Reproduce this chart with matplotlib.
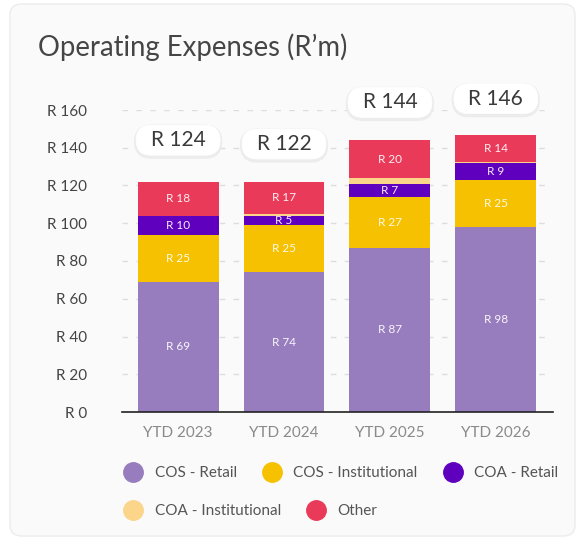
import matplotlib
matplotlib.use("Agg")
import matplotlib.pyplot as plt
import numpy as np
from matplotlib.lines import Line2D
from matplotlib.patches import FancyBboxPatch

plt.rcParams["font.family"] = ["Lato", "DejaVu Sans"]

# Data
years = ["YTD 2023", "YTD 2024", "YTD 2025", "YTD 2026"]
series_names = ["COS - Retail", "COS - Institutional", "COA - Retail",
                "COA - Institutional", "Other"]
cos_retail = [69, 74, 87, 98]
cos_institutional = [25, 25, 27, 25]
coa_retail = [10, 5, 7, 9]
coa_institutional = [0, 1, 3, 0.7]
other = [18, 17, 20, 14]
totals = [124, 122, 144, 146]
yticks = [0, 20, 40, 60, 80, 100, 120, 140, 160]

series = [cos_retail, cos_institutional, coa_retail, coa_institutional, other]
colors = ["#987dbe", "#f6c100", "#5f00bf", "#fbd58a", "#ea3a5a"]
show_label = [True, True, True, False, True]

W, H = 578, 544
fig = plt.figure(figsize=(W / 100, H / 100), dpi=100, facecolor="white")

# card background
card = FancyBboxPatch((10 / W, 8 / H), 565 / W, 532 / H,
                      boxstyle="round,pad=0,rounding_size=0.02",
                      transform=fig.transFigure, fc="#fafafa", ec="#ececec",
                      lw=1, zorder=-10)
fig.patches.append(card)

fig.text(38 / W, 1 - 47 / H, "Operating Expenses (R\u2019m)", fontsize=19.8,
         color="#454545", va="center", ha="left")

ax_left, ax_bottom = 122 / W, 1 - 412 / H
ax_w, ax_h = (553 - 122) / W, (412 - 110) / H
ax = fig.add_axes([ax_left, ax_bottom, ax_w, ax_h])
ax.set_facecolor("none")

xlim = (-0.53, 3.54)
ylim = (0, 160)
ax.set_xlim(xlim)
ax.set_ylim(ylim)

x = np.arange(len(years))
bottom = np.zeros(len(years))
for vals, col, name, lab in zip(series, colors, series_names, show_label):
    vals = np.array(vals, dtype=float)
    ax.bar(x, vals, 0.764, bottom=bottom, color=col, label=name, zorder=3)
    if lab:
        for xi, b, v in zip(x, bottom, vals):
            ax.text(xi, b + v / 2, f"R {v:g}", ha="center", va="center",
                    color="white", fontsize=8.5, zorder=4, alpha=0.92)
    bottom += vals

# total pills (size given in pixels, converted to data units)
px_x = (xlim[1] - xlim[0]) / (ax_w * W)
px_y = (ylim[1] - ylim[0]) / (ax_h * H)
pill_w, pill_h = 84 * px_x, 30 * px_y
aspect = px_y / px_x
for xi, t in zip(x, totals):
    cy = t + 20
    for off, fc, ec, lw, z in [(1.5, "#e6e6e6", "#ececec", 3, 5),
                               (0, "white", "white", 0.5, 6)]:
        p = FancyBboxPatch((xi - pill_w / 2, cy - pill_h / 2 - off * px_y),
                           pill_w, pill_h,
                           boxstyle=f"round,pad=0,rounding_size={pill_h / 2 / aspect}",
                           mutation_aspect=aspect, fc=fc, ec=ec, lw=lw,
                           zorder=z, clip_on=False)
        ax.add_patch(p)
    ax.text(xi, cy, f"R {t}", ha="center", va="center", fontsize=15,
            color="#3a3a3a", zorder=7, clip_on=False)

ax.set_yticks(yticks)
ax.set_yticklabels([f"R {v}" for v in yticks])
ax.set_xticks(x)
ax.set_xticklabels(years)
ax.tick_params(axis="y", length=0, pad=25, labelsize=11, labelcolor="#444444")
ax.tick_params(axis="x", length=0, pad=10, labelsize=11, labelcolor="#8a8a8a")
for lbl in ax.get_yticklabels():
    lbl.set_ha("right")
ax.yaxis.grid(True, color="#dddddd", linestyle=(0, (4, 6)), lw=1, zorder=0)
for s in ["left", "right", "top"]:
    ax.spines[s].set_visible(False)
ax.spines["bottom"].set_color("#222222")
ax.spines["bottom"].set_linewidth(1.2)
ax.spines["bottom"].set_zorder(5)

handles = [Line2D([], [], marker="o", ls="none", markersize=14,
                  markerfacecolor=c, markeredgecolor=c, label=n)
           for c, n in zip(colors, series_names)]
leg_kw = dict(frameon=False, fontsize=11, handlelength=1.2,
              handletextpad=0.8, borderpad=0, borderaxespad=0,
              labelcolor="#555555")
leg1 = fig.legend(handles=handles[:3], loc="center left", ncol=3,
                  bbox_to_anchor=(124 / W, 1 - 473 / H), columnspacing=1.7,
                  **leg_kw)
leg2 = fig.legend(handles=handles[3:], loc="center left", ncol=2,
                  bbox_to_anchor=(124 / W, 1 - 511 / H), columnspacing=1.7,
                  **leg_kw)

fig.savefig("out.png", dpi=100, facecolor="white")
